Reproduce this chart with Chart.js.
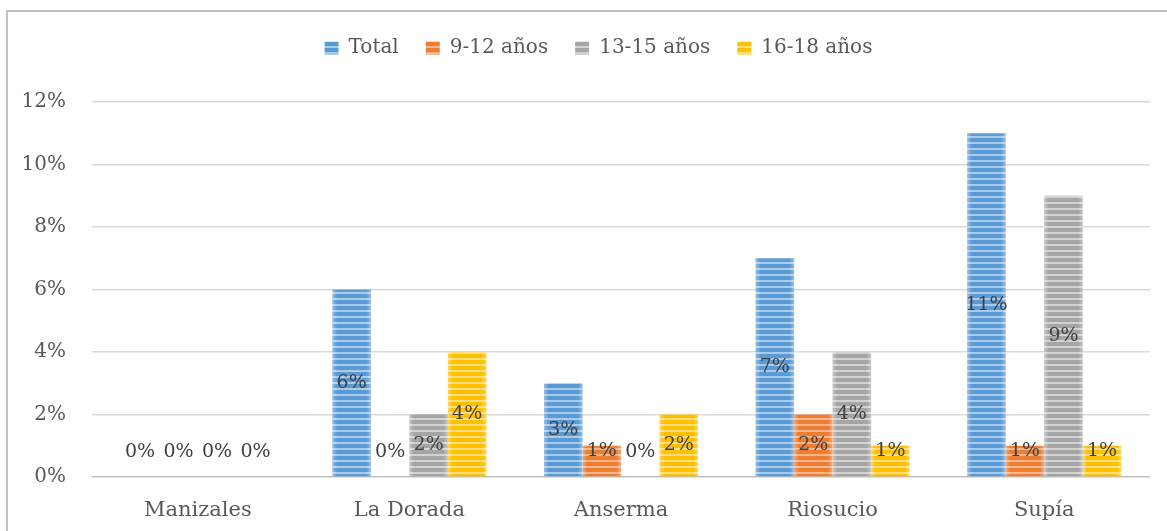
<!DOCTYPE html>
<html><head><meta charset="utf-8">
<script src="https://cdn.jsdelivr.net/npm/chart.js@4.4.0/dist/chart.umd.min.js"></script>
<style>
html,body{margin:0;padding:0;background:#fff;overflow:hidden;width:1167px;height:531px}
#c{position:absolute;left:0;top:0}
</style></head>
<body>
<canvas id="c" width="1167" height="531"></canvas>
<script>
// ---- data ----
const categories = ['Manizales', 'La Dorada', 'Anserma', 'Riosucio', 'Supía'];
const seriesNames = ['Total', '9-12 años', '13-15 años', '16-18 años'];
const total     = [0, 6, 3, 7, 11];
const age9to12  = [0, 0, 1, 2, 1];
const age13to15 = [0, 2, 0, 4, 9];
const age16to18 = [0, 4, 2, 1, 1];
const yTickValues = [0, 2, 4, 6, 8, 10, 12];

// ---- styles ----
function stripe(base, light) {
  const c = document.createElement('canvas');
  c.width = 4; c.height = 6;
  const x = c.getContext('2d');
  x.fillStyle = base; x.fillRect(0, 0, 4, 6);
  x.fillStyle = light; x.fillRect(0, 4, 4, 2);
  return x.createPattern(c, 'repeat');
}
const fills = [
  stripe('#5b9bd5', '#a9cbeb'),
  stripe('#ed7d31', '#f6b68d'),
  stripe('#a5a5a5', '#d2d2d2'),
  stripe('#ffc000', '#ffdf7f')
];
const seriesData = [total, age9to12, age13to15, age16to18];

Chart.defaults.font.family = "'DejaVu Serif', serif";

const frame = {
  id: 'frame',
  beforeDraw(chart) {
    const ctx = chart.ctx;
    ctx.save();
    ctx.strokeStyle = '#c2c2c2';
    ctx.lineWidth = 2;
    ctx.beginPath();
    ctx.moveTo(7, 531);
    ctx.lineTo(7, 11);
    ctx.lineTo(1167, 11);
    ctx.stroke();
    ctx.restore();
  }
};

const legendSpacer = {
  id: 'legendSpacer',
  beforeLayout(chart) {
    const lg = chart.legend;
    if (lg && !lg._patched) {
      const orig = lg.fit;
      lg.fit = function () { orig.call(this); this.height = 91; };
      lg._patched = true;
    }
  },
  afterLayout(chart) {
    const lg = chart.legend;
    if (lg) { lg.left += 20; lg.right += 20; }
  }
};

const barShade = {
  id: 'barShade',
  afterDatasetsDraw(chart) {
    const ctx = chart.ctx;
    chart.data.datasets.forEach((ds, i) => {
      const meta = chart.getDatasetMeta(i);
      meta.data.forEach(el => {
        const p = el.getProps(['x', 'y', 'base', 'width'], true);
        const h = p.base - p.y;
        if (h <= 0) return;
        const l = p.x - p.width / 2;
        const g = ctx.createLinearGradient(l, 0, l + p.width, 0);
        g.addColorStop(0, 'rgba(255,255,255,0.35)');
        g.addColorStop(0.12, 'rgba(255,255,255,0)');
        g.addColorStop(0.88, 'rgba(255,255,255,0)');
        g.addColorStop(1, 'rgba(255,255,255,0.35)');
        ctx.save();
        ctx.fillStyle = g;
        ctx.fillRect(l, p.y, p.width, h);
        ctx.restore();
      });
    });
  }
};

const dataLabels = {
  id: 'dataLabels',
  afterDatasetsDraw(chart) {
    const ctx = chart.ctx;
    ctx.save();
    ctx.font = "19px 'DejaVu Serif', serif";
    ctx.fillStyle = '#404040';
    ctx.textAlign = 'center';
    ctx.textBaseline = 'middle';
    chart.data.datasets.forEach((ds, i) => {
      const meta = chart.getDatasetMeta(i);
      meta.data.forEach((el, j) => {
        const p = el.getProps(['x', 'y', 'base'], true);
        const y = Math.min((p.y + p.base) / 2, p.base - 25);
        ctx.fillText(ds.data[j] + '%', p.x, y);
      });
    });
    ctx.restore();
  }
};

new Chart(document.getElementById('c'), {
  type: 'bar',
  data: {
    labels: categories,
    datasets: seriesNames.map((n, i) => ({
      label: n,
      data: seriesData[i],
      backgroundColor: fills[i],
      borderWidth: 0,
      categoryPercentage: 0.728,
      barPercentage: 1
    }))
  },
  options: {
    responsive: false,
    animation: false,
    layout: { padding: { left: 7, right: 17, top: 11, bottom: 0 } },
    plugins: {
      tooltip: { enabled: false },
      legend: {
        position: 'top',
        align: 'center',
        labels: {
          font: { size: 20, family: "'DejaVu Serif', serif" },
          color: '#595959',
          boxWidth: 14,
          boxHeight: 13,
          padding: 27
        }
      }
    },
    scales: {
      x: {
        grid: { display: false },
        border: { display: false },
        ticks: { color: '#595959', font: { size: 21 }, padding: 13 },
        afterFit(s) { s.height = 54; }
      },
      y: {
        min: 0, max: 12,
        afterBuildTicks(s) { s.ticks = yTickValues.map(v => ({ value: v })); },
        border: { display: false },
        grid: {
          drawTicks: false,
          lineWidth: 1.5,
          color: c => (c.tick && c.tick.value === 0) ? '#bfbfbf' : '#d9d9d9'
        },
        ticks: { color: '#595959', font: { size: 20 }, padding: 26, callback: v => v + '%' },
        afterFit(s) { s.width = 85; }
      }
    }
  },
  plugins: [frame, legendSpacer, barShade, dataLabels]
});
</script>
</body></html>
